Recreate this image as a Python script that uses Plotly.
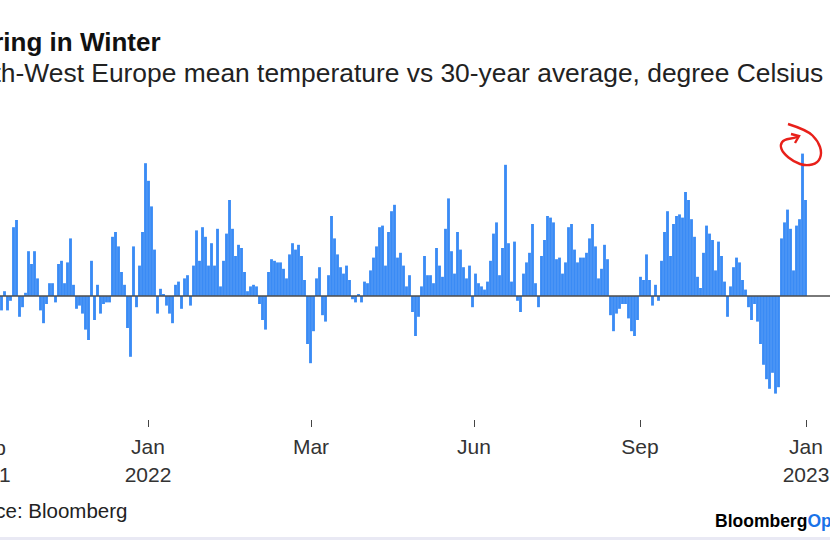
import plotly.graph_objects as go

# ---------------- data ----------------
# North-West Europe mean temperature vs 30-year average, degree Celsius
anomaly_c = [
    -0.9, 0.3, -0.9, -0.3, 4.3, 4.75, -1.3, -0.7, 0.2, 2.8,
    2.0, 2.8, 1.1, -0.9, -1.7, -0.5, 0.8, 0.8, -0.4, 2.0,
    2.2, 0.8, 2.1, 3.6, 0.7, -0.8, -0.6, -1.1, -2.1, -2.75,
    2.2, -1.5, 0.7, -1.1, -0.5, -0.4, -0.4, 3.7, 4.0, 3.1,
    1.5, 0.7, -2.0, -3.8, 3.1, -0.7, 1.9, 4.0, 8.3, 7.2,
    5.6, 2.9, -1.1, 0.45, 0.1, -0.6, -1.1, -1.7, 0.7, 0.9,
    -0.8, 1.1, 1.3, -0.6, 1.9, 4.1, 2.2, 4.3, 3.7, 1.9,
    3.3, 1.9, 4.2, 0.6, 2.2, 3.9, 6.0, 4.2, 2.5, 3.2,
    3.0, 1.5, 0.3, 0.6, 0.7, 0.6, -0.5, -1.5, -2.1, 1.5,
    2.3, 2.2, 2.1, 2.1, 1.7, 1.1, 2.6, 3.3, 2.9, 3.2,
    2.5, 1.0, -3.0, -4.2, -2.2, 1.1, 1.8, -1.2, -1.6, 1.3,
    5.0, 3.6, 2.6, 1.8, 1.4, 1.9, 1.0, -0.2, -0.4, 0.1,
    -0.4, 0.9, 0.8, 1.6, 2.4, 3.1, 4.3, 4.4, 1.9, 4.0,
    5.3, 5.7, 2.4, 2.7, 1.9, 0.6, 1.3, -1.0, -2.5, -1.3,
    0.6, 2.5, 1.3, 1.3, 0.8, 3.0, 1.9, 1.2, 4.2, 6.1,
    2.8, 1.4, 4.0, 2.9, 1.8, 1.1, 1.9, -0.7, 1.4, 0.8,
    0.6, 0.4, 0.9, 2.2, 3.9, 4.6, 1.3, 3.0, 8.2, 3.3,
    0.9, 3.4, -0.3, -1.0, 1.4, 2.1, 2.7, 4.5, 0.8, -0.7,
    2.5, 3.5, 5.0, 4.9, 4.6, 2.3, 2.4, 1.4, 2.1, 4.3,
    4.5, 2.9, 2.1, 2.4, 2.4, 2.7, 3.6, 4.5, 3.1, 1.1,
    1.7, 3.2, 2.3, -1.2, -2.2, -1.1, -0.8, -0.5, -0.5, -1.4,
    -2.2, -2.5, -1.5, 1.2, 1.0, 2.6, 1.0, -0.6, 0.7, -0.3,
    2.2, 4.0, 5.3, 2.5, 4.5, 5.0, 5.1, 4.9, 6.5, 6.0,
    4.8, 3.7, 1.2, 0.5, 2.7, 4.4, 3.9, 3.5, 1.6, 3.4,
    2.5, 0.9, -1.3, 0.6, 1.8, 2.4, 2.1, 1.0, 0.4, -0.7,
    -1.5, -0.5, -1.6, -3.0, -4.3, -5.2, -5.8, -4.8, -6.1, -5.7,
    3.6, 4.6, 5.4, 4.2, 1.6, 4.4, 4.8, 8.9, 6.0,
]
tick_labels = ["Jan<br>2022", "Mar", "Jun", "Sep", "Jan<br>2023"]
first_tick_label = "Sep<br>2021"
title_text = "Spring in Winter"
subtitle_text = "North-West Europe mean temperature vs 30-year average, degree Celsius"
source_text = "Source: Bloomberg"

# ---------------- layout constants ----------------
W, H = 830, 540
M_T, M_B = 100, 121
PLOT_H = H - M_T - M_B
PX_PER_BAR = 3.0
PX_PER_DEG = 16.0
ZERO_PY = 296

x_idx = list(range(len(anomaly_c)))
x_range = [-0.5, W / PX_PER_BAR - 0.5]
y_min = -(H - M_B - ZERO_PY) / PX_PER_DEG
y_max = (ZERO_PY - M_T) / PX_PER_DEG

tick_px = [148, 311, 474, 640, 806]
tick_vals = [p / PX_PER_BAR - 0.5 for p in tick_px]

FONT = "Liberation Sans, Arial, sans-serif"
BLUE = "#3a8bf5"


def px_x(px):
    return px / W


def px_y(py):
    return (H - M_B - py) / PLOT_H


fig = go.Figure()
fig.add_trace(go.Bar(
    x=x_idx, y=anomaly_c,
    marker=dict(color=BLUE, line=dict(width=0)),
    hoverinfo="skip",
))

# zero line drawn above bars
fig.add_shape(type="line", xref="paper", yref="y", x0=0, x1=1, y0=0, y1=0,
              line=dict(color="#4d4d4d", width=1.5), layer="above")

# red hand-drawn loop around the peak
loop_pts = [(788, 124), (807, 130), (818, 141), (822, 153), (818, 163),
            (806, 166), (794, 162), (783, 153), (780, 145), (784, 139.5),
            (795, 138), (799, 136)]
pts = [(px_x(a), px_y(b)) for a, b in loop_pts]
path = f"M {pts[0][0]},{pts[0][1]}"
for i in range(1, len(pts) - 1):
    mx = (pts[i][0] + pts[i + 1][0]) / 2
    my = (pts[i][1] + pts[i + 1][1]) / 2
    path += f" Q {pts[i][0]},{pts[i][1]} {mx},{my}"
path += f" L {pts[-1][0]},{pts[-1][1]}"
fig.add_shape(type="path", xref="paper", yref="paper", path=path,
              line=dict(color="#e8201a", width=2.4))
# small arrow hook
hook = [(791, 134), (799, 136), (795, 143)]
hp = [(px_x(a), px_y(b)) for a, b in hook]
fig.add_shape(type="path", xref="paper", yref="paper",
              path=f"M {hp[0][0]},{hp[0][1]} L {hp[1][0]},{hp[1][1]} L {hp[2][0]},{hp[2][1]}",
              line=dict(color="#e8201a", width=2.4))

annos = [
    dict(text=f"<b>{title_text}</b>", x=px_x(-42), y=px_y(42), xanchor="left", yanchor="middle",
         font=dict(size=26, color="#111111", family=FONT)),
    dict(text=subtitle_text, x=px_x(-51), y=px_y(73), xanchor="left", yanchor="middle",
         font=dict(size=26.4, color="#222222", family=FONT)),
    dict(text=source_text, x=px_x(-50.5), y=px_y(510), xanchor="left", yanchor="middle",
         font=dict(size=20.5, color="#222222", family=FONT)),
    dict(text="<b>Bloomberg<span style='color:#1a73e8'>Opinion</span></b>", x=px_x(713), y=px_y(521),
         xanchor="left", yanchor="middle", font=dict(size=17.5, color="#000000", family=FONT)),
    dict(text=first_tick_label, x=px_x(-13), y=px_y(434), xanchor="center", yanchor="top",
         font=dict(size=21, color="#333333", family=FONT), align="center"),
]
for a in annos:
    fig.add_annotation(xref="paper", yref="paper", showarrow=False, **a)

fig.update_layout(
    width=W, height=H,
    margin=dict(l=0, r=0, t=M_T, b=M_B, pad=0),
    paper_bgcolor="white", plot_bgcolor="white",
    showlegend=False, bargap=0.05,
    font=dict(family=FONT, color="#333333"),
    xaxis=dict(range=x_range, showgrid=False, zeroline=False, showline=False,
               tickmode="array", tickvals=tick_vals, ticktext=tick_labels,
               ticks="outside", ticklen=7, tickwidth=1, tickcolor="#444444",
               ticklabelstandoff=2,
               tickfont=dict(size=21, color="#333333", family=FONT)),
    yaxis=dict(range=[y_min, y_max], showgrid=False, zeroline=False,
               showticklabels=False, showline=False, ticks=""),
)

fig.add_shape(type="rect", xref="paper", yref="paper", x0=0, x1=1,
              y0=px_y(540), y1=px_y(537), fillcolor="#e9e9f4", line=dict(width=0))

fig.write_html(
    "out.html",
    config={"displayModeBar": False},
    post_script="document.body.style.margin='0';document.body.style.overflow='hidden';",
)
